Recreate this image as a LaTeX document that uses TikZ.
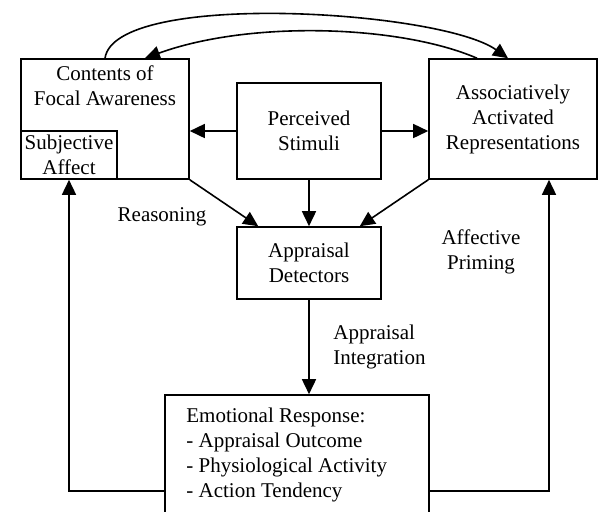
\documentclass[tikz,border=0pt]{standalone}
\usepackage{fontspec}
\setmainfont{Liberation Serif}
\usetikzlibrary{arrows.meta, positioning}

\begin{document}
\begin{tikzpicture}[x=0.5pt, y=-0.5pt,
    box/.style={draw, line width=0.8pt, align=center, inner sep=0pt,
      font=\fontsize{10.5}{12.5}\selectfont},
    lbl/.style={align=center, inner sep=0pt, font=\fontsize{10.5}{12.5}\selectfont},
    arr/.style={line width=0.8pt, -{Triangle[length=7.5pt, width=7pt]}},
  ]
    \useasboundingbox (0,0) rectangle (599,511);
    \node[box, minimum width=84pt, minimum height=60pt] (cfa) at (105,119) {};
    \node[lbl] (cfatext) at (105,86) {Contents of\\Focal Awareness};
    \node[box, minimum width=48pt, minimum height=24pt] (sa) at (69,155) {Subjective\\Affect};
    \node[box, minimum width=72pt, minimum height=48pt] (ps) at (309,131) {Perceived\\Stimuli};
    \node[box, minimum width=84pt, minimum height=60pt] (aar) at (513,119)
      {Associatively\\Activated\\Representations};
    \node[box, minimum width=72pt, minimum height=36pt] (ad) at (309,263) {Appraisal\\Detectors};
    \node[box, minimum width=132pt, minimum height=65pt] (er) at (297,460) {};
    \node[lbl, align=left, anchor=west] (ertext) at (186,455)
      {Emotional Response:\\- Appraisal Outcome\\- Physiological Activity\\- Action Tendency};
    \node[lbl] (reas) at (162,217) {Reasoning};
    \node[lbl] (prim) at (481,252) {Affective\\Priming};
    \node[lbl, align=left, anchor=west] (integ) at (333,347) {Appraisal\\Integration};
    \coordinate (lbend) at (69,491);
    \coordinate (rbend) at (549,491);
    \draw[arr] (ps.west) -- (ps.west -| cfa.east);
    \draw[arr] (ps.east) -- (ps.east -| aar.west);
    \draw[arr] (ps.south) -- (ad.north);
    \draw[arr] (cfa.south east) -- ([xshift=11pt]ad.north west);
    \draw[arr] (aar.south west) -- ([xshift=-11pt]ad.north east);
    \draw[arr] (ad.south) -- (ad.south |- er.north);
    \draw[arr] (er.west |- lbend) -- (lbend) -- (sa.south);
    \draw[arr] (er.east |- rbend) -- (rbend) -- (rbend |- aar.south);
    \draw[arr] (cfa.north) .. controls (115,-10) and (440,10) .. ([xshift=-2.5pt]aar.north);
    \draw[arr] ([xshift=-18pt]aar.north) .. controls (400,25) and (250,20) .. ([xshift=20pt]cfa.north);
  \end{tikzpicture}
\end{document}
